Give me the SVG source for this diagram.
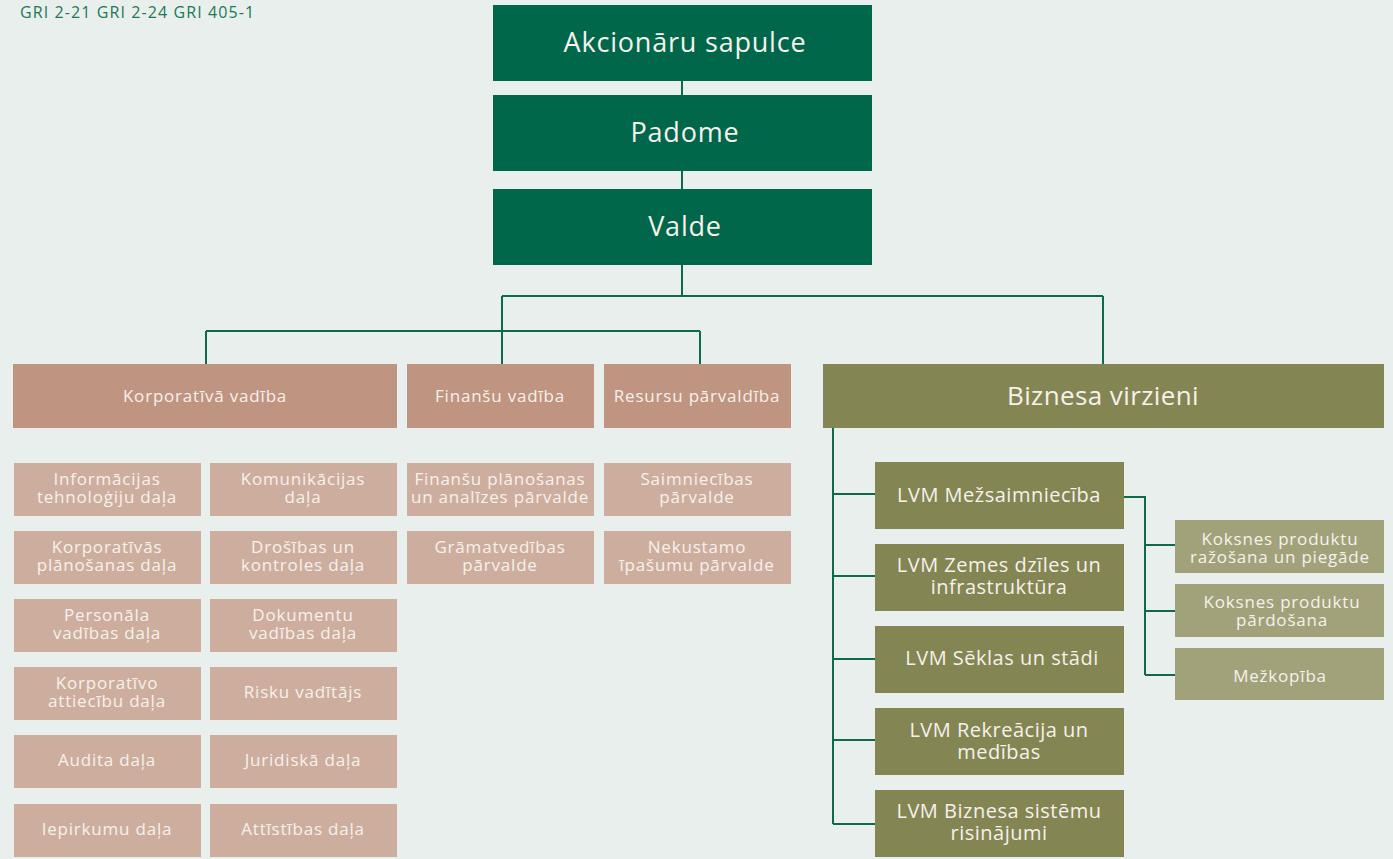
<svg xmlns="http://www.w3.org/2000/svg" width="1393" height="859" viewBox="0 0 1393 859">
<style>
text{font-family:"Open Sans","Liberation Sans",sans-serif;fill:#f6f1ec;text-anchor:middle}
.top{fill:#00674a}
.l2{fill:#bf9480}
.l3{fill:#cdae9e}
.ol{fill:#838652}
.lo{fill:#a2a27a}
.big{font-size:27px;letter-spacing:0.8px}
.mid{font-size:20px;letter-spacing:0.5px}
.sm{font-size:17px;letter-spacing:0.8px}
.con{fill:none;stroke:#0d6b4c;stroke-width:2}
</style>
<rect width="1393" height="859" fill="#e9efec"/>
<text x="20" y="18" style="font-size:16px;letter-spacing:1.1px;fill:#1a7a55;text-anchor:start">GRI 2-21 GRI 2-24 GRI 405-1</text>
<g id="connectors" class="con">
<path d="M682 81V95M682 171V189M682 265V296M502 296H1103M502 296V364M1103 296V364M206 331H700M206 331V364M700 331V364"/>
<path d="M833 428V824M833 494H875M833 576H875M833 659H875M833 740H875M833 824H875"/>
<path d="M1124 497H1145V675M1145 545H1175M1145 611H1175M1145 675H1175"/>
</g>
<g id="akcionaru"><rect class="top" x="493" y="5" width="379" height="76"/><text class="big" x="685" y="52">Akcionāru sapulce</text></g>
<g id="padome"><rect class="top" x="493" y="95" width="379" height="76"/><text class="big" x="685" y="142">Padome</text></g>
<g id="valde"><rect class="top" x="493" y="189" width="379" height="76"/><text class="big" x="685" y="236">Valde</text></g>
<g id="korporativa"><rect class="l2" x="13" y="364" width="384" height="64"/><text class="sm" x="205" y="402">Korporatīvā vadība</text></g>
<g id="finansu"><rect class="l2" x="407" y="364" width="187" height="64"/><text class="sm" x="500" y="402">Finanšu vadība</text></g>
<g id="resursu"><rect class="l2" x="604" y="364" width="187" height="64"/><text class="sm" x="697" y="402">Resursu pārvaldība</text></g>
<g id="biznesa"><rect class="ol" x="823" y="364" width="561" height="64"/><text style="font-size:26px;letter-spacing:0.4px" x="1103" y="405">Biznesa virzieni</text></g>
<g id="it"><rect class="l3" x="14" y="463" width="187" height="53"/><text class="sm"><tspan x="107" y="485">Informācijas</tspan><tspan x="107" y="503">tehnoloģiju daļa</tspan></text></g>
<g id="komunikacijas"><rect class="l3" x="210" y="463" width="187" height="53"/><text class="sm"><tspan x="303" y="485">Komunikācijas</tspan><tspan x="303" y="503">daļa</tspan></text></g>
<g id="planosanas"><rect class="l3" x="14" y="531" width="187" height="53"/><text class="sm"><tspan x="107" y="553">Korporatīvās</tspan><tspan x="107" y="571">plānošanas daļa</tspan></text></g>
<g id="drosibas"><rect class="l3" x="210" y="531" width="187" height="53"/><text class="sm"><tspan x="303" y="553">Drošības un</tspan><tspan x="303" y="571">kontroles daļa</tspan></text></g>
<g id="personala"><rect class="l3" x="14" y="599" width="187" height="53"/><text class="sm"><tspan x="107" y="621">Personāla</tspan><tspan x="107" y="639">vadības daļa</tspan></text></g>
<g id="dokumentu"><rect class="l3" x="210" y="599" width="187" height="53"/><text class="sm"><tspan x="303" y="621">Dokumentu</tspan><tspan x="303" y="639">vadības daļa</tspan></text></g>
<g id="attiecibu"><rect class="l3" x="14" y="667" width="187" height="53"/><text class="sm"><tspan x="107" y="689">Korporatīvo</tspan><tspan x="107" y="707">attiecību daļa</tspan></text></g>
<g id="risku"><rect class="l3" x="210" y="667" width="187" height="53"/><text class="sm" x="303" y="698">Risku vadītājs</text></g>
<g id="audita"><rect class="l3" x="14" y="735" width="187" height="53"/><text class="sm" x="107" y="766">Audita daļa</text></g>
<g id="juridiska"><rect class="l3" x="210" y="735" width="187" height="53"/><text class="sm" x="303" y="766">Juridiskā daļa</text></g>
<g id="iepirkumu"><rect class="l3" x="14" y="804" width="187" height="53"/><text class="sm" x="107" y="835">Iepirkumu daļa</text></g>
<g id="attistibas"><rect class="l3" x="210" y="804" width="187" height="53"/><text class="sm" x="303" y="835">Attīstības daļa</text></g>
<g id="finplan"><rect class="l3" x="407" y="463" width="187" height="53"/><text class="sm"><tspan x="500" y="485">Finanšu plānošanas</tspan><tspan x="500" y="503">un analīzes pārvalde</tspan></text></g>
<g id="gramatvedibas"><rect class="l3" x="407" y="531" width="187" height="53"/><text class="sm"><tspan x="500" y="553">Grāmatvedības</tspan><tspan x="500" y="571">pārvalde</tspan></text></g>
<g id="saimniecibas"><rect class="l3" x="604" y="463" width="187" height="53"/><text class="sm"><tspan x="697" y="485">Saimniecības</tspan><tspan x="697" y="503">pārvalde</tspan></text></g>
<g id="nekustamo"><rect class="l3" x="604" y="531" width="187" height="53"/><text class="sm"><tspan x="697" y="553">Nekustamo</tspan><tspan x="697" y="571">īpašumu pārvalde</tspan></text></g>
<g id="mezsaimnieciba"><rect class="ol" x="875" y="462" width="249" height="67"/><text class="mid" x="999" y="502">LVM Mežsaimniecība</text></g>
<g id="zemes"><rect class="ol" x="875" y="544" width="249" height="67"/><text class="mid"><tspan x="999" y="572">LVM Zemes dzīles un</tspan><tspan x="999" y="594">infrastruktūra</tspan></text></g>
<g id="seklas"><rect class="ol" x="875" y="626" width="249" height="67"/><text class="mid" x="1002" y="665">LVM Sēklas un stādi</text></g>
<g id="rekreacija"><rect class="ol" x="875" y="708" width="249" height="67"/><text class="mid"><tspan x="999" y="737">LVM Rekreācija un</tspan><tspan x="999" y="759">medības</tspan></text></g>
<g id="sistemu"><rect class="ol" x="875" y="790" width="249" height="67"/><text class="mid"><tspan x="999" y="818">LVM Biznesa sistēmu</tspan><tspan x="999" y="840">risinājumi</tspan></text></g>
<g id="razosana"><rect class="lo" x="1175" y="520" width="209" height="53"/><text class="sm"><tspan x="1280" y="545">Koksnes produktu</tspan><tspan x="1280" y="563">ražošana un piegāde</tspan></text></g>
<g id="pardosana"><rect class="lo" x="1175" y="584" width="209" height="53"/><text class="sm"><tspan x="1282" y="608">Koksnes produktu</tspan><tspan x="1282" y="626">pārdošana</tspan></text></g>
<g id="mezkopiba"><rect class="lo" x="1175" y="648" width="209" height="52"/><text class="sm" x="1280" y="682">Mežkopība</text></g>
</svg>
